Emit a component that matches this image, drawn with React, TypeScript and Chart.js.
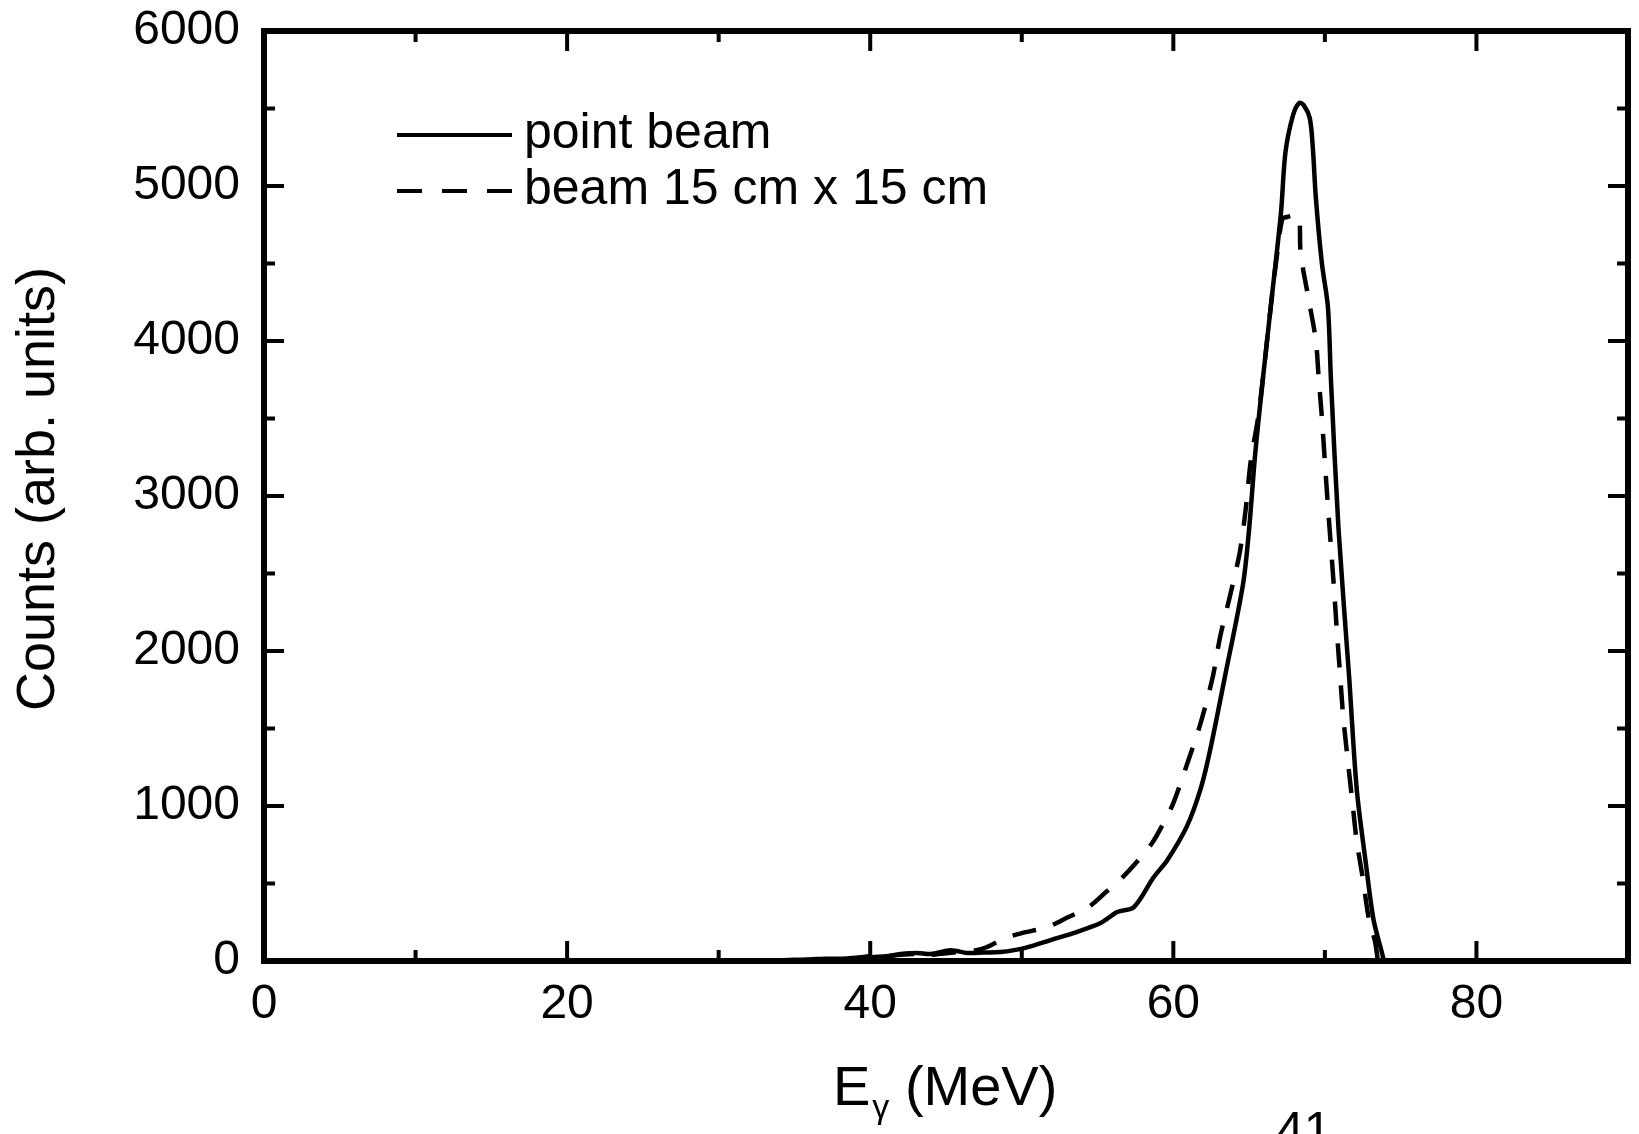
import React, { useEffect, useRef } from "react";
import { Chart, registerables } from "chart.js";
Chart.register(...registerables);

// ---- data ----
const pointBeamEnergy = [33, 34, 35, 36, 37, 38, 39, 40, 41, 42, 43.1, 44, 45.3, 46.4, 47.5, 48.6, 49.5, 50.4, 51.9, 53.4, 55.2, 56.3, 57.4, 58.7, 59.6, 60.9, 61.8, 62.4, 63.4, 64.6, 65.0, 65.4, 65.9, 66.5, 67.1, 67.4, 67.9, 68.3, 68.6, 69.0, 69.2, 69.4, 69.8, 70.2, 70.4, 70.9, 71.6, 72.1, 72.7, 73.2, 73.7, 73.9];
const pointBeamCounts = [5, 5, 8, 10, 15, 15, 20, 25, 30, 45, 52, 45, 70, 52, 55, 58, 70, 90, 135, 180, 245, 316, 348, 540, 650, 870, 1110, 1348, 1832, 2432, 2787, 3271, 3748, 4284, 4826, 5219, 5458, 5535, 5522, 5439, 5252, 4929, 4503, 4219, 3748, 2787, 1832, 1110, 632, 271, 77, 0];
const wideBeamEnergy = [33, 35, 37, 39, 40, 41, 42, 43, 44, 45, 46, 47, 47.7, 48.9, 50, 51.7, 53, 54.4, 55.5, 56.6, 57.6, 58.6, 59.3, 60.0, 61.0, 61.8, 62.6, 63.1, 63.8, 64.4, 64.8, 65.1, 65.6, 65.9, 66.5, 66.9, 67.2, 67.5, 68.0, 68.3, 68.4, 68.9, 69.4, 69.6, 69.8, 70.0, 70.2, 70.4, 70.6, 70.8, 71.0, 71.2, 71.5, 71.8, 72.1, 72.5, 72.9, 73.3, 73.5];
const wideBeamCounts = [3, 5, 10, 20, 30, 30, 40, 45, 40, 50, 60, 70, 90, 148, 180, 219, 280, 348, 440, 535, 640, 761, 880, 1019, 1297, 1535, 1832, 2097, 2381, 2645, 2935, 3219, 3510, 3748, 4284, 4600, 4790, 4800, 4810, 4800, 4568, 4284, 4006, 3748, 3510, 3219, 2935, 2671, 2406, 2116, 1852, 1587, 1303, 1039, 774, 535, 271, 129, 0];

const xMajorTicks = [0, 20, 40, 60, 80];
const xMinorTicks = [10, 30, 50, 70, 90];
const yMajorTicks = [0, 1000, 2000, 3000, 4000, 5000, 6000];
const yMinorTicks = [500, 1500, 2500, 3500, 4500, 5500];
const seriesLabels = ["point beam", "beam 15 cm x 15 cm"];
const yTitle = "Counts (arb. units)";
const xTitleMain = "E";
const xTitleSub = "γ";
const xTitleUnit = " (MeV)";
const pageNumber = "41";

const FONT = "'Liberation Sans', Arial, sans-serif";

const framePlugin = {
  id: "frame",
  afterDraw(chart: any) {
    const ctx = chart.ctx;
    const { left, right, top, bottom } = chart.chartArea;
    const xs = chart.scales.x;
    const ys = chart.scales.y;
    ctx.save();
    ctx.strokeStyle = "#000";
    ctx.lineCap = "butt";
    const drawX = (vals: number[], len: number) => {
      ctx.lineWidth = 4;
      for (const v of vals) {
        const px = xs.getPixelForValue(v);
        ctx.beginPath();
        ctx.moveTo(px, bottom);
        ctx.lineTo(px, bottom - len);
        ctx.moveTo(px, top);
        ctx.lineTo(px, top + len);
        ctx.stroke();
      }
    };
    const drawY = (vals: number[], len: number) => {
      ctx.lineWidth = 4;
      for (const v of vals) {
        const py = ys.getPixelForValue(v);
        ctx.beginPath();
        ctx.moveTo(left, py);
        ctx.lineTo(left + len, py);
        ctx.moveTo(right, py);
        ctx.lineTo(right - len, py);
        ctx.stroke();
      }
    };
    drawX(xMajorTicks, 20);
    drawX(xMinorTicks, 11);
    drawY(yMajorTicks, 20);
    drawY(yMinorTicks, 11);
    ctx.lineWidth = 6;
    ctx.strokeRect(left, top, right - left, bottom - top);

    // legend
    ctx.lineWidth = 4;
    ctx.beginPath();
    ctx.moveTo(397, 135);
    ctx.lineTo(512, 135);
    ctx.stroke();
    ctx.setLineDash([25, 20]);
    ctx.beginPath();
    ctx.moveTo(397, 191);
    ctx.lineTo(512, 191);
    ctx.stroke();
    ctx.setLineDash([]);
    ctx.fillStyle = "#000";
    ctx.font = `50px ${FONT}`;
    ctx.textAlign = "left";
    ctx.textBaseline = "middle";
    ctx.fillText(seriesLabels[0], 524, 134);
    ctx.fillText(seriesLabels[1], 524, 190);

    // y title
    ctx.save();
    ctx.translate(39, 489);
    ctx.rotate(-Math.PI / 2);
    ctx.font = `54px ${FONT}`;
    ctx.textAlign = "center";
    ctx.textBaseline = "middle";
    ctx.fillText(yTitle, 0, 0);
    ctx.restore();

    // x title
    ctx.font = `56px ${FONT}`;
    ctx.textAlign = "left";
    ctx.textBaseline = "alphabetic";
    let x = 833;
    const base = 1105;
    ctx.fillText(xTitleMain, x, base);
    x += ctx.measureText(xTitleMain).width + 2;
    ctx.font = `34px ${FONT}`;
    ctx.fillText(xTitleSub, x, base + 13);
    x += ctx.measureText(xTitleSub).width;
    ctx.font = `56px ${FONT}`;
    ctx.fillText(xTitleUnit, x, base);

    // page number
    ctx.font = `50px ${FONT}`;
    ctx.fillText(pageNumber, 1276, 1147);
    ctx.restore();
  },
};

export default function App() {
  const ref = useRef<HTMLCanvasElement | null>(null);
  useEffect(() => {
    document.body.style.margin = "0";
    const canvas = ref.current!;
    const chart = new Chart(canvas, {
      type: "line",
      data: {
        datasets: [
          {
            label: seriesLabels[0],
            data: pointBeamEnergy.map((e, i) => ({ x: e, y: pointBeamCounts[i] })),
            borderColor: "#000",
            borderWidth: 4.5,
            pointRadius: 0,
            tension: 0.3,
            fill: false,
          },
          {
            label: seriesLabels[1],
            data: wideBeamEnergy.map((e, i) => ({ x: e, y: wideBeamCounts[i] })),
            borderColor: "#000",
            borderWidth: 4.5,
            borderDash: [24, 18],
            pointRadius: 0,
            tension: 0.3,
            fill: false,
          },
        ],
      },
      options: {
        responsive: false,
        devicePixelRatio: 1,
        animation: false,
        layout: { padding: { top: 31, right: 11, left: 0, bottom: 0 } },
        plugins: { legend: { display: false }, tooltip: { enabled: false } },
        scales: {
          x: {
            type: "linear",
            min: 0,
            max: 90,
            grid: { display: false },
            border: { display: false },
            afterBuildTicks: (s: any) => {
              s.ticks = xMajorTicks.map((v) => ({ value: v }));
            },
            afterFit: (s: any) => {
              s.height = 173;
              s.paddingLeft = 0;
              s.paddingRight = 0;
            },
            ticks: {
              color: "#000",
              padding: 7,
              maxRotation: 0,
              autoSkip: false,
              callback: (v: any) => String(v),
              font: { size: 48, family: FONT },
            },
          },
          y: {
            type: "linear",
            min: 0,
            max: 6000,
            grid: { display: false },
            border: { display: false },
            afterBuildTicks: (s: any) => {
              s.ticks = yMajorTicks.map((v) => ({ value: v }));
            },
            afterFit: (s: any) => {
              s.width = 264;
              s.paddingTop = 0;
              s.paddingBottom = 0;
            },
            ticks: {
              color: "#000",
              padding: 16,
              autoSkip: false,
              callback: (v: any) => String(v),
              font: { size: 48, family: FONT },
            },
          },
        },
      },
      plugins: [framePlugin],
    });
    return () => chart.destroy();
  }, []);
  return (
    <div style={{ width: 1639, height: 1134, background: "#fff" }}>
      <canvas ref={ref} width={1639} height={1134} style={{ display: "block" }} />
    </div>
  );
}
